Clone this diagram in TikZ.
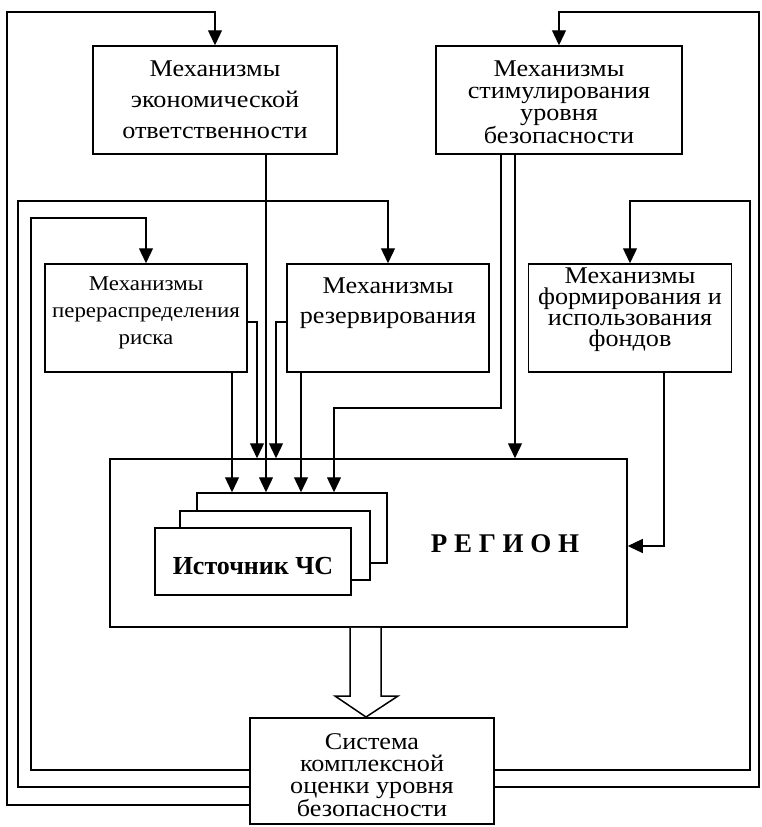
\documentclass[tikz,border=0pt]{standalone}
\usepackage{fontspec}
\setmainfont{Liberation Serif}
\newfontfamily\widefont[FakeStretch=1.09]{Liberation Serif}
\usetikzlibrary{arrows.meta}
\begin{document}
\begin{tikzpicture}[x=1pt,y=-1pt,
  box/.style={draw, line width=1.5pt, fill=white, inner sep=0pt},
  conn/.style={line width=1.3pt},
  arr/.style={conn, -{Triangle[length=15pt,width=14pt]}},
  lbl/.style={align=center, inner sep=0pt},
]
\useasboundingbox (0,0) rectangle (762,827);
% boxes
\node[box, minimum width=244, minimum height=108] (eko) at (215,100) {};
\node[box, minimum width=246, minimum height=108] (stim) at (559,100) {};
\node[box, minimum width=202, minimum height=108] (per) at (146,318) {};
\node[box, minimum width=202, minimum height=108] (rez) at (388,318) {};
\node[box, minimum width=203, minimum height=108] (fond) at (630,318) {};
\node[box, minimum width=517, minimum height=168] (reg) at (368.5,543) {};
\node[box, minimum width=190, minimum height=70] (src3) at (292,528) {};
\node[box, minimum width=190, minimum height=69] (src2) at (275,545.5) {};
\node[box, minimum width=196, minimum height=67] (src1) at (253,561.5) {};
\node[box, minimum width=244, minimum height=106] (sys) at (372,771) {};
% texts
\node[lbl, font=\widefont\fontsize{24}{31}\selectfont] (ekoT) at (215,100) {Механизмы\\экономической\\ответственности};
\node[lbl, font=\widefont\fontsize{24}{22}\selectfont] (stimT) at (559,102) {Механизмы\\стимулирования\\уровня\\безопасности};
\node[lbl, font=\widefont\fontsize{21}{27}\selectfont] (perT) at (146,313) {Механизмы\\перераспределения\\риска};
\node[lbl, font=\widefont\fontsize{24}{30}\selectfont] (rezT) at (388,303) {Механизмы\\резервирования};
\node[lbl, font=\widefont\fontsize{24}{21}\selectfont] (fondT) at (630,310) {Механизмы\\формирования и\\использования\\фондов};
\node[lbl, font=\widefont\fontsize{24}{22}\selectfont] (sysT) at (372,775) {Система\\комплексной\\оценки уровня\\безопасности};
\node[lbl, font=\bfseries\fontsize{26}{30}\selectfont] (srcT) at (253,566) {Источник ЧС};
\node[lbl, font=\bfseries\fontsize{27}{30}\selectfont] (regT) at (505,544) {Р Е Г И О Н};
% feedback loops
\draw[arr] (sys.west |- 0,805) -| (7,12) -| (eko.north);
\draw[arr] (sys.west |- 0,787) -| (18,201) -| (rez.north);
\draw[arr] (sys.west |- 0,770) -| (31,218) -| (per.north);
\draw[arr] (sys.east |- 0,770) -| (750,201) -| (fond.north);
\draw[arr] (sys.east |- 0,787) -| (759,12) -| (stim.north);
% inputs to region
\draw[arr] (per.south -| 232,0) -- (232,0 |- src3.north);
\draw[arr] (per.east |- 0,322) -| (257,0 |- reg.north);
\draw[arr] (rez.west |- 0,322) -| (276,0 |- reg.north);
\draw[arr] (eko.south -| 266,0) -- (266,0 |- src3.north);
\draw[arr] (rez.south -| 301,0) -- (301,0 |- src3.north);
\draw[arr] (stim.south -| 501,0) |- (334,408) -- (334,0 |- src3.north);
\draw[arr] (stim.south -| 515,0) -- (515,0 |- reg.north);
\draw[arr] (fond.south -| 664,0) |- (reg.east |- 0,546);
% hollow arrow
\draw[line width=1.5pt, fill=white] (reg.south -| 350,0) -- (350,696) -- (335,696) -- (366,717) -- (398,696) -- (381,696) -- (381,0 |- reg.south);
\end{tikzpicture}
\end{document}
